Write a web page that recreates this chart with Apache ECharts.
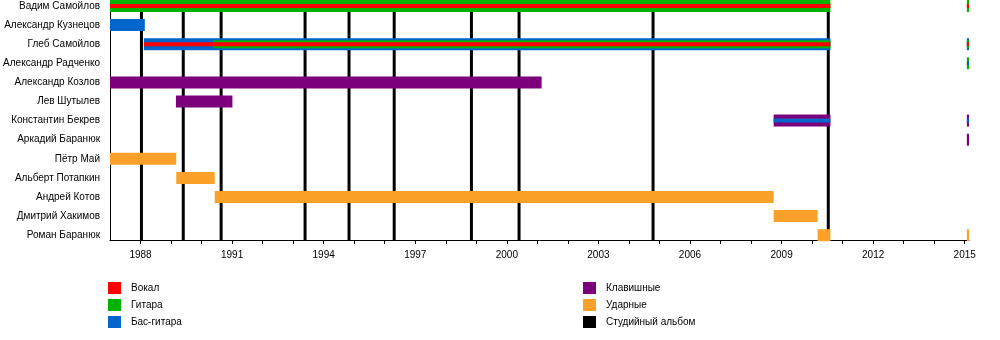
<!DOCTYPE html>
<html>
<head>
<meta charset="utf-8">
<script src="https://cdn.jsdelivr.net/npm/echarts@6/dist/echarts.min.js"></script>
<style>
html,body{margin:0;padding:0;background:#fff;}
#chart{width:1000px;height:340px;}
</style>
</head>
<body>
<div id="chart"></div>
<script>
// Members (rows, top to bottom)
const members = [
  'Вадим Самойлов','Александр Кузнецов','Глеб Самойлов','Александр Радченко',
  'Александр Козлов','Лев Шутылев','Константин Бекрев','Аркадий Баранюк',
  'Пётр Май','Альберт Потапкин','Андрей Котов','Дмитрий Хакимов','Роман Баранюк'
];
// Roles (legend)
const roles = ['Вокал','Гитара','Бас-гитара','Клавишные','Ударные'];
const roleColors = ['#ff0000','#00b300','#0066cc','#7c007c','#fba12a'];
const albumLabel = 'Студийный альбом';

// Stints: [start, end, memberIndex, roleIndex]
const outerBars = [
  [1987.0, 2010.6, 0, 1], [2015.07, 2015.14, 0, 1],
  [1987.0, 1988.14, 1, 2],
  [1988.11, 2010.6, 2, 2], [2015.07, 2015.14, 2, 2],
  [2015.07, 2015.14, 3, 1],
  [1987.0, 2001.14, 4, 3],
  [1989.16, 1991.01, 5, 3],
  [2008.74, 2010.6, 6, 3], [2015.07, 2015.14, 6, 3],
  [2015.07, 2015.14, 7, 3],
  [1987.0, 1989.17, 8, 4],
  [1989.17, 1990.43, 9, 4],
  [1990.43, 2008.74, 10, 4],
  [2008.74, 2010.18, 11, 4],
  [2010.18, 2010.6, 12, 4], [2015.07, 2015.14, 12, 4]
];
const middleBars = [
  [1990.38, 2010.6, 2, 1], [2015.07, 2015.14, 2, 1]
];
const innerBars = [
  [1987.0, 2010.6, 0, 0], [2015.07, 2015.14, 0, 0],
  [1988.11, 2010.6, 2, 0], [2015.07, 2015.14, 2, 0],
  [2015.07, 2015.14, 3, 2],
  [2008.74, 2010.6, 6, 2], [2015.07, 2015.14, 6, 2]
];
// Studio albums (years)
const albums = [1988.03, 1989.4, 1990.64, 1993.39, 1994.83, 1996.31, 1998.84, 2000.4, 2004.79, 2010.53];

// Axis ticks
const yearTicks = [];
for (let y = 1988; y <= 2015; y++) yearTicks.push(y);
const yearLabels = [1988, 1991, 1994, 1997, 2000, 2003, 2006, 2009, 2012, 2015];

const X_MIN = 1987, X_MAX = 2015.14;
const Y_MIN = -0.314, Y_MAX = 12.251;
const FONT = '"Liberation Sans", Arial, sans-serif';

function barRenderer(h) {
  return function (params, api) {
    const s = api.value(0), e = api.value(1), r = api.value(2), role = api.value(3);
    const p0 = api.coord([s, r]);
    const p1 = api.coord([e, r]);
    return {
      type: 'rect',
      shape: { x: p0[0], y: p0[1] - h / 2, width: Math.max(p1[0] - p0[0], 1), height: h },
      style: { fill: roleColors[role] }
    };
  };
}

const series = [];
series.push({
  name: albumLabel,
  type: 'custom',
  itemStyle: { color: '#000' },
  data: albums.map(a => [a]),
  encode: { x: 0 },
  silent: true,
  renderItem: function (params, api) {
    const x = api.coord([api.value(0), Y_MIN])[0];
    const yTop = api.coord([X_MIN, Y_MIN])[1];
    const yBot = api.coord([X_MIN, Y_MAX])[1];
    return { type: 'line', shape: { x1: x, y1: yTop, x2: x, y2: yBot }, style: { stroke: '#000', lineWidth: 3 } };
  }
});
[[outerBars, 12], [middleBars, 8], [innerBars, 4]].forEach(function (pair) {
  series.push({
    type: 'custom',
    data: pair[0],
    encode: { x: [0, 1], y: 2 },
    silent: true,
    renderItem: barRenderer(pair[1])
  });
});
roles.forEach(function (r, i) {
  series.push({ name: r, type: 'custom', data: [], itemStyle: { color: roleColors[i] }, renderItem: function () { return null; } });
});

const legendCommon = {
  orient: 'vertical',
  icon: 'rect',
  itemWidth: 13,
  itemHeight: 12,
  itemGap: 5,
  selectedMode: false,
  textStyle: { fontFamily: FONT, fontSize: 10, color: '#000', padding: [0, 0, 0, 5] },
  padding: 0,
  top: 282
};

const chart = echarts.init(document.getElementById('chart'), null, { renderer: 'canvas' });
chart.setOption({
  animation: false,
  backgroundColor: '#fff',
  grid: { left: 110, right: 31, top: 0, bottom: 100, containLabel: false, outerBoundsMode: 'none' },
  xAxis: {
    type: 'value', min: X_MIN, max: X_MAX,
    splitLine: { show: false },
    axisLine: { show: true, onZero: false, lineStyle: { color: '#000', width: 1 } },
    axisTick: { show: true, customValues: yearTicks, length: 4, lineStyle: { color: '#000' } },
    axisLabel: {
      customValues: yearLabels,
      formatter: function (v) { return String(Math.round(v)); },
      fontFamily: FONT, fontSize: 10, color: '#000', margin: 10
    }
  },
  yAxis: {
    type: 'value', inverse: true, min: Y_MIN, max: Y_MAX,
    splitLine: { show: false },
    axisLine: { show: true, onZero: false, lineStyle: { color: '#000', width: 1 } },
    axisTick: { show: false },
    axisLabel: {
      customValues: members.map((m, i) => i),
      formatter: function (v) { return members[Math.round(v)]; },
      fontFamily: FONT, fontSize: 10, color: '#000', margin: 10
    }
  },
  legend: [
    Object.assign({}, legendCommon, { left: 108, data: roles.slice(0, 3) }),
    Object.assign({}, legendCommon, { left: 583, data: [roles[3], roles[4], albumLabel] })
  ],
  series: series
});
</script>
</body>
</html>
